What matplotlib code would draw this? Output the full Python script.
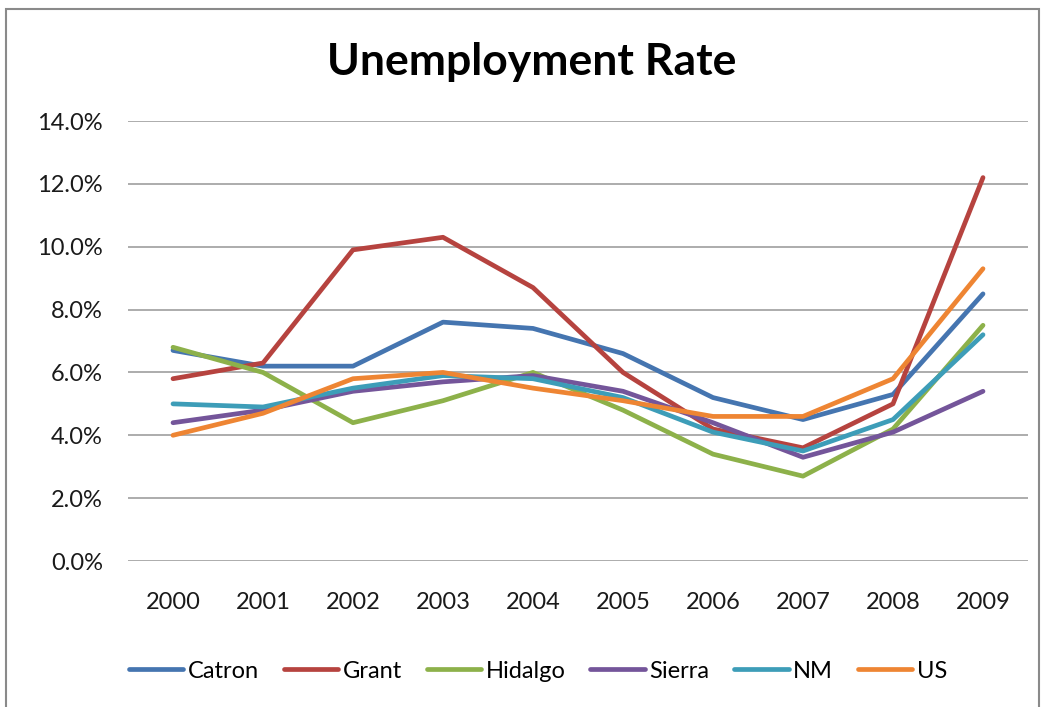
import matplotlib.pyplot as plt
from matplotlib.ticker import FuncFormatter
from matplotlib.patches import Rectangle

plt.rcParams['font.family'] = ['Lato', 'DejaVu Sans']

years = ['2000', '2001', '2002', '2003', '2004', '2005', '2006', '2007', '2008', '2009']
catron = [6.7, 6.2, 6.2, 7.6, 7.4, 6.6, 5.2, 4.5, 5.3, 8.5]
grant = [5.8, 6.3, 9.9, 10.3, 8.7, 6.0, 4.2, 3.6, 5.0, 12.2]
hidalgo = [6.8, 6.0, 4.4, 5.1, 6.0, 4.8, 3.4, 2.7, 4.2, 7.5]
sierra = [4.4, 4.8, 5.4, 5.7, 5.9, 5.4, 4.4, 3.3, 4.1, 5.4]
nm = [5.0, 4.9, 5.5, 5.9, 5.8, 5.2, 4.1, 3.5, 4.5, 7.2]
us = [4.0, 4.7, 5.8, 6.0, 5.5, 5.1, 4.6, 4.6, 5.8, 9.3]

series = [('Catron', catron, '#4575B0'),
          ('Grant', grant, '#B6433F'),
          ('Hidalgo', hidalgo, '#8DB14A'),
          ('Sierra', sierra, '#74559A'),
          ('NM', nm, '#3D9DB8'),
          ('US', us, '#EE8533')]

fig = plt.figure(figsize=(10.47, 7.07), dpi=100)
ax = fig.add_axes([128 / 1047, 1 - 561 / 707, 900 / 1047, 440 / 707])

# outer chart frame
fig.patches.append(Rectangle((6 / 1047, -0.01), 1033 / 1047, 1 - 9 / 707 + 0.01,
                             transform=fig.transFigure, fill=False,
                             edgecolor='#8a8a8a', linewidth=1.5))

x = list(range(len(years)))
for name, vals, col in series:
    ax.plot(x, vals, color=col, linewidth=3.4, label=name,
            solid_capstyle='round', solid_joinstyle='round')

ax.set_xlim(-0.5, len(years) - 0.5)
ax.set_ylim(0, 14)
ax.set_yticks([0, 2, 4, 6, 8, 10, 12, 14])
ax.yaxis.set_major_formatter(FuncFormatter(lambda v, p: '%.1f%%' % v))
ax.set_xticks(x)
ax.set_xticklabels(years)
ax.grid(axis='y', color='#a6a6a6', linewidth=1.3)
ax.set_axisbelow(True)
for s in ax.spines.values():
    s.set_visible(False)
ax.tick_params(length=0, labelsize=17, colors='#1a1a1a')
ax.tick_params(axis='x', pad=22)
ax.tick_params(axis='y', pad=18)

fig.text(0.508, 1 - 62 / 707, 'Unemployment Rate', ha='center', va='center',
         fontsize=32, fontweight='bold', color='black')

ax.legend(loc='center', bbox_to_anchor=(410 / 900, -110 / 440), ncol=6,
          frameon=False, fontsize=17, handlelength=2.3, handletextpad=0.2,
          columnspacing=1.05)

fig.savefig('out.png', dpi=100)
